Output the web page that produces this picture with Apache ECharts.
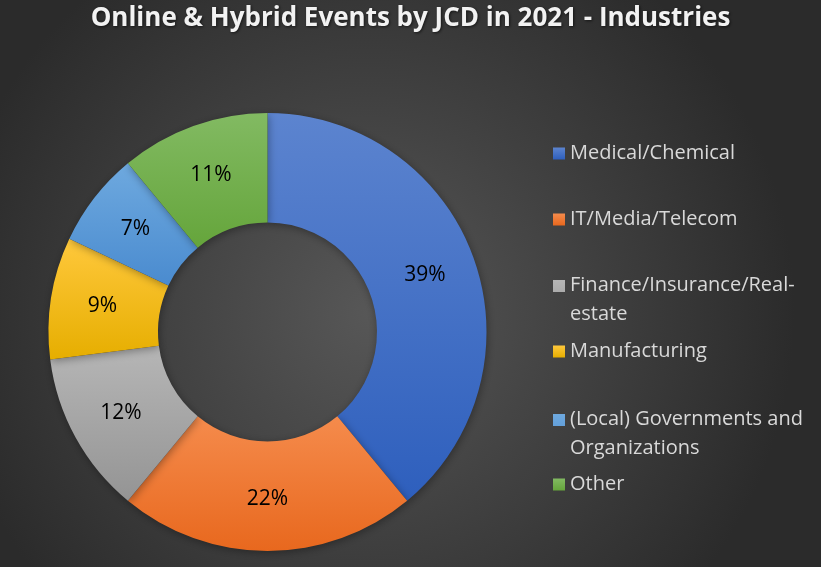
<!DOCTYPE html>
<html><head><meta charset="utf-8">
<script src="https://cdn.jsdelivr.net/npm/echarts@6/dist/echarts.min.js"></script>
<style>html,body{margin:0;padding:0;background:#333;}#c{width:821px;height:567px;}</style>
</head><body><div id="c"></div>
<script>
const title = 'Online & Hybrid Events by JCD in 2021 - Industries';
const categories = ['Medical/Chemical','IT/Media/Telecom','Finance/Insurance/Real-estate','Manufacturing','(Local) Governments and Organizations','Other'];
const legendLabels = ['Medical/Chemical','IT/Media/Telecom','Finance/Insurance/Real-\nestate','Manufacturing','(Local) Governments and\nOrganizations','Other'];
const values = [39, 22, 12, 9, 7, 11];
const colorsTop = ['#5c84cf','#f58b4c','#b6b6b6','#ffc83c','#6ea9df','#82ba62'];
const colorsBottom = ['#2e5fbd','#e8681e','#949494','#e6ae00','#4a8bcf','#65a53b'];
const legendTops = [134, 200, 266, 332, 400, 465];

const F = '"Open Sans", Lato, sans-serif';
const grad = (a,b) => new echarts.graphic.LinearGradient(0,0,0,1,[{offset:0,color:a},{offset:1,color:b}]);
// icon for two-line items: square at the top, invisible extent below so it sits on the first line
const tallIcon = 'path://M0 0H12V12H0Z M0 40H12Z';

const legends = categories.map((c,i)=>{
  const two = legendLabels[i].indexOf('\n') >= 0;
  return {
    data:[c], left:548, top:legendTops[i], orient:'vertical',
    itemWidth:12, itemHeight: two ? 40 : 12, itemGap:0, icon: two ? tallIcon : 'rect',
    formatter:()=>legendLabels[i],
    textStyle:{color:'#d9d9d9', fontSize:20, fontFamily:F, lineHeight:29},
    selectedMode:false
  };
});

const chart = echarts.init(document.getElementById('c'), null, {renderer:'canvas'});
chart.setOption({
  backgroundColor: new echarts.graphic.RadialGradient(0.45,0.55,0.75,[{offset:0,color:'#575757'},{offset:1,color:'#2b2b2b'}]),
  title:{text:title, left:'center', top:1,
    textStyle:{color:'#f2f2f2', fontSize:26, fontWeight:'bold', fontFamily:F,
      textShadowColor:'rgba(0,0,0,0.6)', textShadowBlur:3, textShadowOffsetX:1, textShadowOffsetY:1}},
  legend: legends,
  series:[{
    type:'pie', center:[267.5,332], radius:[109.5,219], startAngle:90, clockwise:true,
    avoidLabelOverlap:false, silent:true,
    label:{show:true, position:'inside', formatter:'{c}%', color:'#000', fontSize:21, fontFamily:F},
    labelLine:{show:false},
    itemStyle:{borderWidth:0, shadowBlur:8, shadowColor:'rgba(0,0,0,0.35)', shadowOffsetX:1, shadowOffsetY:2},
    data: categories.map((c,i)=>({name:c, value:values[i], itemStyle:{color:grad(colorsTop[i],colorsBottom[i])}}))
  }]
});
</script></body></html>
